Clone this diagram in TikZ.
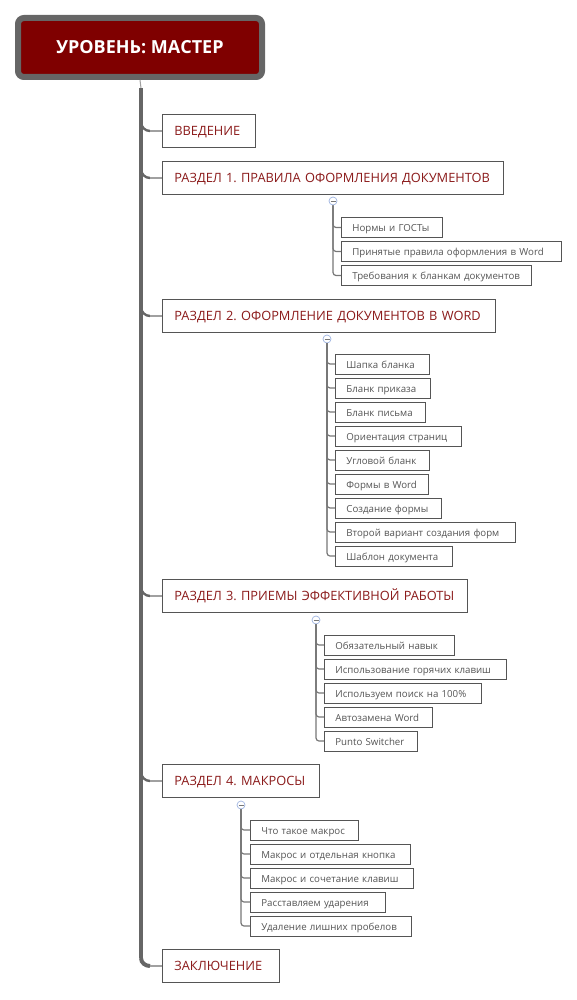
\documentclass[tikz,border=0pt]{standalone}
\usepackage{fontspec}
\setmainfont{Open Sans}
\frenchspacing
\newcommand\onel[1]{\mbox{#1}}
\begin{document}
\begin{tikzpicture}[x=1pt,y=-1pt,
  rootbox/.style={draw=rootgray, line width=6pt, fill=rootred, rounded corners=6pt,
    minimum width=244pt, minimum height=59pt, text=white,
    font=\fontsize{18}{20}\selectfont\bfseries},
  topbox/.style={draw=boxgray, line width=0.8pt, fill=white, anchor=west,
    minimum height=33pt, inner xsep=12pt, inner ysep=0pt, text=toptext,
    text height=0.86em, text depth=0pt,
    font=\fontsize{12.8}{14}\selectfont, align=left, text width=#1},
  subbox/.style={draw=boxgray, line width=0.8pt, fill=white, anchor=west,
    minimum height=20pt, inner xsep=11pt, inner ysep=0pt, text=subtext,
    text height=0.8em, text depth=0pt,
    font=\fontsize{9.7}{10}\selectfont, align=left, text width=#1},
  trunk/.style={draw=rootgray, line width=4pt},
  branch/.style={draw=branchgray, line width=1.6pt},
  subline/.style={draw=sublinegray, line width=1.2pt, rounded corners=3pt},
  minus/.style={circle, draw=minusblue, fill=white, line width=0.7pt, minimum size=8pt, inner sep=0pt}
]
\definecolor{rootred}{HTML}{7F0000}
\definecolor{rootgray}{HTML}{666666}
\definecolor{boxgray}{HTML}{555555}
\definecolor{toptext}{HTML}{8B1A1A}
\definecolor{subtext}{HTML}{555555}
\definecolor{branchgray}{HTML}{A0A0A0}
\definecolor{sublinegray}{HTML}{777777}
\definecolor{minusblue}{HTML}{9DB3E0}
\useasboundingbox (0,0) rectangle (577,1000);

\node[rootbox] (root) at (140,47.5) {УРОВЕНЬ: МАСТЕР};

% level 1 boxes
\node[topbox=69pt] (intro) at (162,131) {\onel{ВВЕДЕНИЕ}};
\node[topbox=317pt] (r1) at (162,178) {\onel{РАЗДЕЛ 1. ПРАВИЛА ОФОРМЛЕНИЯ ДОКУМЕНТОВ}};
\node[topbox=309pt] (r2) at (162,316) {\onel{РАЗДЕЛ 2. ОФОРМЛЕНИЕ ДОКУМЕНТОВ В WORD}};
\node[topbox=281pt] (r3) at (162,596) {\onel{РАЗДЕЛ 3. ПРИЕМЫ ЭФФЕКТИВНОЙ РАБОТЫ}};
\node[topbox=133pt] (r4) at (162,781) {\onel{РАЗДЕЛ 4. МАКРОСЫ}};
\node[topbox=93pt] (concl) at (162,966) {\onel{ЗАКЛЮЧЕНИЕ}};

% trunk
\coordinate (tb) at (141,958);
\draw[draw=branchgray, line width=1pt] (root.south) -- (141,88);
\draw[trunk] (141,88) -- (tb);
\foreach \n/\yy in {intro/131, r1/178, r2/316, r3/596, r4/781}{
  \draw[trunk, line width=2.4pt] (141,\yy-9) to[out=-90,in=180] (150,\yy);
  \draw[branch] (150,\yy) -- (\n.west);
}
\draw[trunk] (tb) to[out=-90,in=180] (150,966);
\draw[branch] (150,966) -- (concl.west);

% section 1
\node[minus] (m1) at (333,201) {};
\draw[sublinegray, line width=0.6pt] (330.5,201) -- (335.5,201);
\node[subbox=79pt] (s11) at (341,227.5) {\onel{Нормы и ГОСТы}};
\node[subbox=198pt] (s12) at (341,251.5) {\onel{Принятые правила оформления в Word}};
\node[subbox=168pt] (s13) at (341,275.5) {\onel{Требования к бланкам документов}};
\foreach \c in {s11,s12,s13}{ \draw[subline] (m1.south) |- (\c.west); }

% section 2
\node[minus] (m2) at (327,339) {};
\draw[sublinegray, line width=0.6pt] (324.5,339) -- (329.5,339);
\node[subbox=72pt] (s21) at (335,364) {\onel{Шапка бланка}};
\node[subbox=73pt] (s22) at (335,388) {\onel{Бланк приказа}};
\node[subbox=68pt] (s23) at (335,412) {\onel{Бланк письма}};
\node[subbox=104pt] (s24) at (335,436) {\onel{Ориентация страниц}};
\node[subbox=72pt] (s25) at (335,460) {\onel{Угловой бланк}};
\node[subbox=71pt] (s26) at (335,484) {\onel{Формы в Word}};
\node[subbox=84pt] (s27) at (335,508) {\onel{Создание формы}};
\node[subbox=158pt] (s28) at (335,532) {\onel{Второй вариант создания форм}};
\node[subbox=95pt] (s29) at (335,556) {\onel{Шаблон документа}};
\foreach \c in {s21,s22,s23,s24,s25,s26,s27,s28,s29}{ \draw[subline] (m2.south) |- (\c.west); }

% section 3
\node[minus] (m3) at (316,620) {};
\draw[sublinegray, line width=0.6pt] (313.5,620) -- (318.5,620);
\node[subbox=108pt] (s31) at (324,645) {\onel{Обязательный навык}};
\node[subbox=160pt] (s32) at (324,669) {\onel{Использование горячих клавиш}};
\node[subbox=135pt] (s33) at (324,693) {\onel{Используем поиск на 100\%}};
\node[subbox=86pt] (s34) at (324,717) {\onel{Автозамена Word}};
\node[subbox=71pt] (s35) at (324,741) {\onel{Punto Switcher}};
\foreach \c in {s31,s32,s33,s34,s35}{ \draw[subline] (m3.south) |- (\c.west); }

% section 4
\node[minus] (m4) at (241,805) {};
\draw[sublinegray, line width=0.6pt] (238.5,805) -- (243.5,805);
\node[subbox=86pt] (s41) at (250,830) {\onel{Что такое макрос}};
\node[subbox=138pt] (s42) at (250,854) {\onel{Макрос и отдельная кнопка}};
\node[subbox=141pt] (s43) at (250,878) {\onel{Макрос и сочетание клавиш}};
\node[subbox=113pt] (s44) at (250,902) {\onel{Расставляем ударения}};
\node[subbox=139pt] (s45) at (250,926) {\onel{Удаление лишних пробелов}};
\foreach \c in {s41,s42,s43,s44,s45}{ \draw[subline] (m4.south) |- (\c.west); }
\end{tikzpicture}
\end{document}
